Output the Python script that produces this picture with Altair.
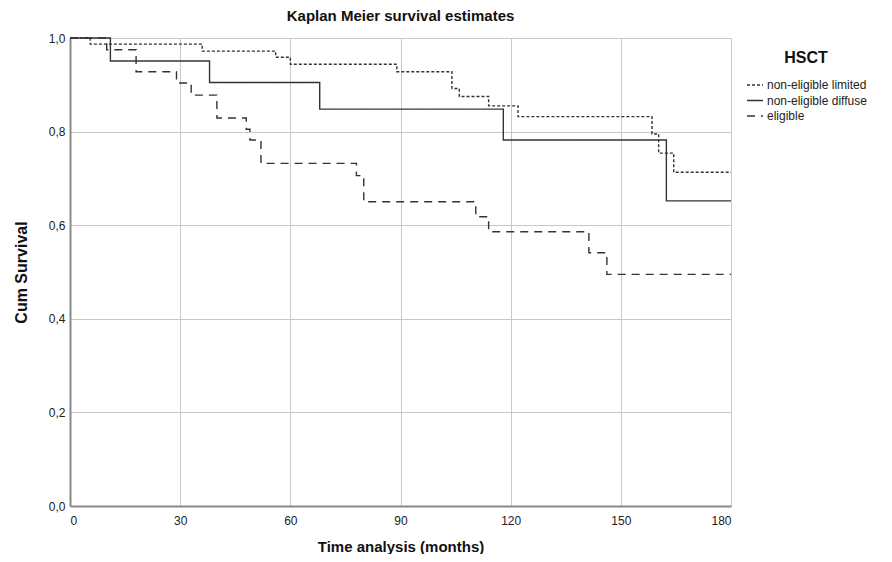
import altair as alt
import pandas as pd

# Kaplan-Meier step data
groups = ["non-eligible limited", "non-eligible diffuse", "eligible"]

limited_t = [0, 5.5, 36, 56, 60, 89, 104, 106, 114, 122, 158.5, 160.3, 164.4, 180]
limited_s = [1.0, 0.987, 0.972, 0.959, 0.944, 0.928, 0.892, 0.875, 0.855, 0.832, 0.795, 0.754, 0.713, 0.713]

diffuse_t = [0, 11, 38, 68, 118, 162.4, 180]
diffuse_s = [1.0, 0.951, 0.905, 0.848, 0.782, 0.652, 0.652]

eligible_t = [0, 10, 18, 29, 33, 40, 48, 49, 52, 78, 80, 110.5, 114, 141.3, 146.2, 180]
eligible_s = [1.0, 0.975, 0.928, 0.904, 0.878, 0.829, 0.805, 0.782, 0.732, 0.706, 0.650, 0.618, 0.586, 0.541, 0.495, 0.495]

x_ticks = [0, 30, 60, 90, 120, 150, 180]
y_ticks = [0.0, 0.2, 0.4, 0.6, 0.8, 1.0]

rows = []
for g, ts, ss in zip(groups, [limited_t, diffuse_t, eligible_t], [limited_s, diffuse_s, eligible_s]):
    for i, (t, s) in enumerate(zip(ts, ss)):
        rows.append({"HSCT": g, "time": t, "surv": s, "order": i})
df = pd.DataFrame(rows)

FONT = "Liberation Sans"

chart = alt.Chart(df).mark_line(interpolate="step-after", strokeWidth=1.4, color="#333333").encode(
    x=alt.X("time:Q", scale=alt.Scale(domain=[0, 180], nice=False),
            axis=alt.Axis(values=x_ticks, title="Time analysis (months)", format="d",
                          titleFontSize=15, titleFontWeight="bold", titlePadding=13,
                          labelFontSize=12, labelPadding=9)),
    y=alt.Y("surv:Q", scale=alt.Scale(domain=[0, 1], nice=False),
            axis=alt.Axis(values=y_ticks, title="Cum Survival",
                          labelExpr="replace(format(datum.value, '.1f'), '.', ',')",
                          titleFontSize=16, titleFontWeight="bold", titlePadding=19,
                          labelFontSize=12, labelPadding=5)),
    strokeDash=alt.StrokeDash("HSCT:N",
        scale=alt.Scale(domain=groups, range=[[3, 2], [1, 0], [8, 6]]),
        legend=alt.Legend(title="HSCT", orient="none", legendX=676, legendY=12,
                          symbolType="stroke", symbolSize=256, symbolStrokeWidth=1.4,
                          symbolStrokeColor="#333333",
                          titleFontSize=16, titleFontWeight="bold", titleAnchor="middle",
                          titlePadding=10, labelFontSize=12, labelOffset=3,
                          rowPadding=0.5, labelLimit=200)),
    order="order:Q",
    detail="HSCT:N",
).properties(
    width=661, height=468,
    title=alt.TitleParams("Kaplan Meier survival estimates", fontSize=15, fontWeight="bold",
                          anchor="middle", offset=8, font=FONT, color="#111111"),
    autosize=alt.AutoSizeParams(type="none"),
    padding={"left": 62, "top": 30, "right": 153, "bottom": 48},
).configure_axis(
    labelFont=FONT, titleFont=FONT, labelColor="#222222", titleColor="#111111",
    gridColor="#c8c8c8", gridWidth=1, domainColor="#8a8a8a", domainWidth=2, ticks=False,
).configure_legend(
    labelFont=FONT, titleFont=FONT, labelColor="#222222", titleColor="#111111",
).configure_view(stroke=None)

chart.save("out.html", embed_options={"renderer": "svg", "actions": False})
